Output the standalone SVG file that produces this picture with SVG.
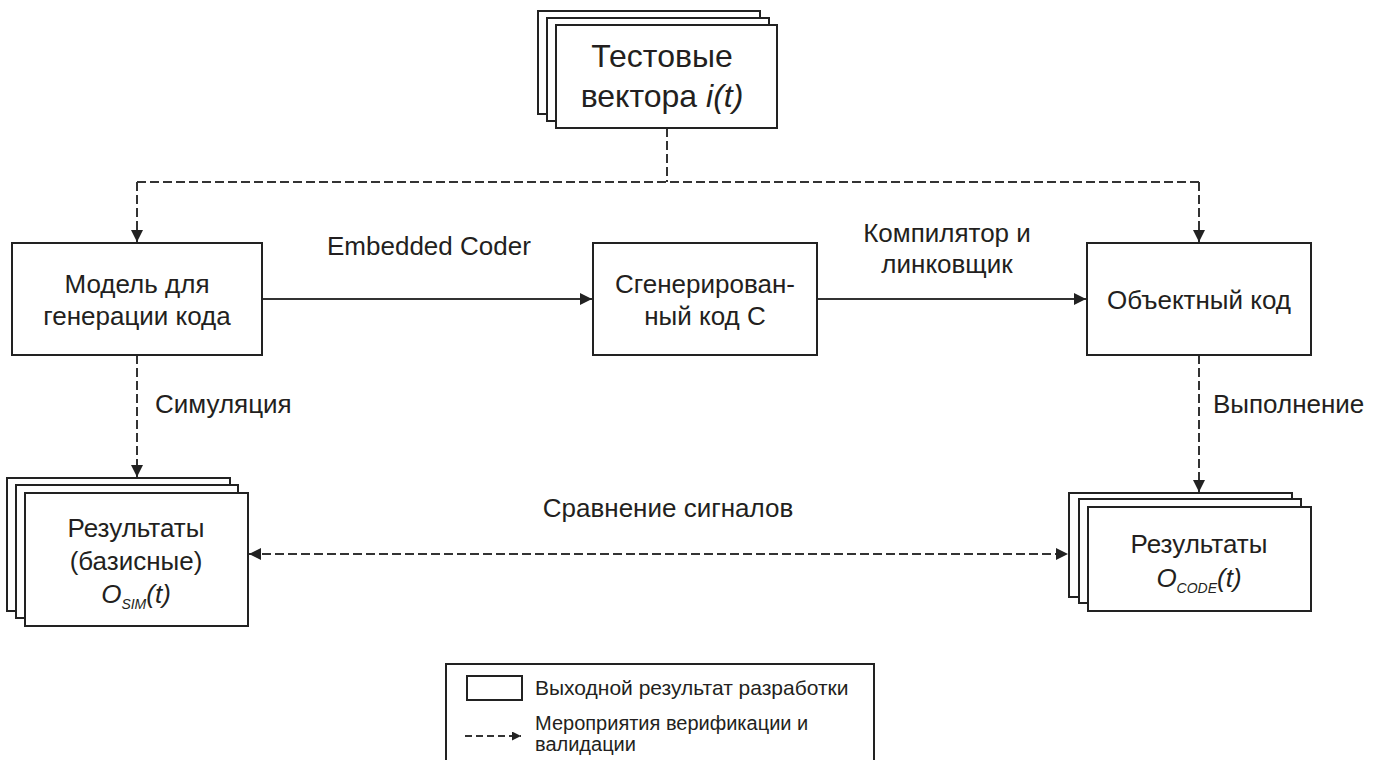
<svg xmlns="http://www.w3.org/2000/svg" width="1382" height="760" viewBox="0 0 1382 760">
<defs>
<style>
.box{fill:#fff;stroke:#222;stroke-width:2}
.t{font-family:"Liberation Sans",Arial,sans-serif;font-size:26px;fill:#231f20;text-anchor:middle}
.big{font-size:32px}
.lbl{font-family:"Liberation Sans",Arial,sans-serif;font-size:26px;fill:#231f20}
.lg{font-family:"Liberation Sans",Arial,sans-serif;font-size:21px;fill:#231f20}
.lg2{font-size:20px}
.it{font-style:italic}
.sub{font-size:14px;font-style:italic}
.solid{fill:none;stroke:#333;stroke-width:2}
.dash{fill:none;stroke:#333;stroke-width:2;stroke-dasharray:9 4}
</style>
<marker id="ah" markerWidth="12" markerHeight="12" refX="10" refY="5" orient="auto" markerUnits="userSpaceOnUse" viewBox="0 0 10 10">
<path d="M0,0 L10,5 L0,10 z" fill="#222"/>
</marker>
<marker id="ahs" markerWidth="12" markerHeight="12" refX="0" refY="5" orient="auto" markerUnits="userSpaceOnUse" viewBox="0 0 10 10">
<path d="M10,0 L0,5 L10,10 z" fill="#222"/>
</marker>
<marker id="ahl" markerWidth="9" markerHeight="9" refX="10" refY="5" orient="auto" markerUnits="userSpaceOnUse" viewBox="0 0 10 10">
<path d="M0,0 L10,5 L0,10 z" fill="#222"/>
</marker>
</defs>
<rect width="1382" height="760" fill="#fff"/>

<g id="connectors">
<path class="dash" d="M667,128 V182"/>
<path class="dash" d="M137,182 H1199"/>
<path class="dash" d="M137,182 V242" marker-end="url(#ah)"/>
<path class="dash" d="M1199,182 V242" marker-end="url(#ah)"/>
<path class="solid" d="M262,299 H592" marker-end="url(#ah)"/>
<path class="solid" d="M817,299 H1086" marker-end="url(#ah)"/>
<path class="dash" d="M137,355 V477" marker-end="url(#ah)"/>
<path class="dash" d="M1199,355 V492" marker-end="url(#ah)"/>
<path class="dash" d="M249,554 H1068" marker-start="url(#ahs)" marker-end="url(#ah)"/>
<text class="lbl" x="327" y="255">Embedded Coder</text>
<text class="lbl" x="947" y="242" text-anchor="middle">Компилятор и</text>
<text class="lbl" x="947" y="273" text-anchor="middle">линковщик</text>
<text class="lbl" x="155" y="413">Симуляция</text>
<text class="lbl" x="1213" y="413">Выполнение</text>
<text class="lbl" x="668" y="517" text-anchor="middle">Сравнение сигналов</text>
</g>

<g id="test-vectors">
<rect class="box" x="538" y="11" width="222" height="103"/>
<rect class="box" x="547" y="18" width="222" height="103"/>
<rect class="box" x="556" y="25" width="221" height="103"/>
<text class="t big" x="662" y="67">Тестовые</text>
<text class="t big" x="662" y="107">вектора <tspan class="it">i(t)</tspan></text>
</g>

<g id="model">
<rect class="box" x="12" y="243" width="250" height="112"/>
<text class="t" x="137" y="293">Модель для</text>
<text class="t" x="137" y="325">генерации кода</text>
</g>

<g id="gen-code">
<rect class="box" x="593" y="243" width="224" height="112"/>
<text class="t" x="705" y="293">Сгенерирован-</text>
<text class="t" x="705" y="325">ный код С</text>
</g>

<g id="object-code">
<rect class="box" x="1087" y="243" width="224" height="112"/>
<text class="t" x="1199" y="309">Объектный код</text>
</g>

<g id="results-sim">
<rect class="box" x="7" y="478" width="223" height="133"/>
<rect class="box" x="16" y="485" width="222" height="133"/>
<rect class="box" x="25" y="493" width="223" height="133"/>
<text class="t" x="136" y="537">Результаты</text>
<text class="t" x="136" y="570">(базисные)</text>
<text class="t" x="136" y="603"><tspan class="it">O</tspan><tspan class="sub" dy="6">SIM</tspan><tspan class="it" dy="-6">(t)</tspan></text>
</g>

<g id="results-code">
<rect class="box" x="1069" y="493" width="223" height="104"/>
<rect class="box" x="1079" y="499" width="222" height="104"/>
<rect class="box" x="1088" y="507" width="223" height="104"/>
<text class="t" x="1199" y="553">Результаты</text>
<text class="t" x="1199" y="587"><tspan class="it">O</tspan><tspan class="sub" dy="6">CODE</tspan><tspan class="it" dy="-6">(t)</tspan></text>
</g>

<g id="legend">
<rect x="446" y="664" width="428" height="110" fill="#fff" stroke="#222" stroke-width="2"/>
<rect x="467" y="676" width="55" height="24" fill="#fff" stroke="#222" stroke-width="2"/>
<text class="lg" x="535" y="695">Выходной результат разработки</text>
<path class="dash" d="M465,736 H521" style="stroke-dasharray:7 4" marker-end="url(#ahl)"/>
<text class="lg lg2" x="535" y="730">Мероприятия верификации и</text>
<text class="lg lg2" x="535" y="751">валидации</text>
</g>
</svg>
